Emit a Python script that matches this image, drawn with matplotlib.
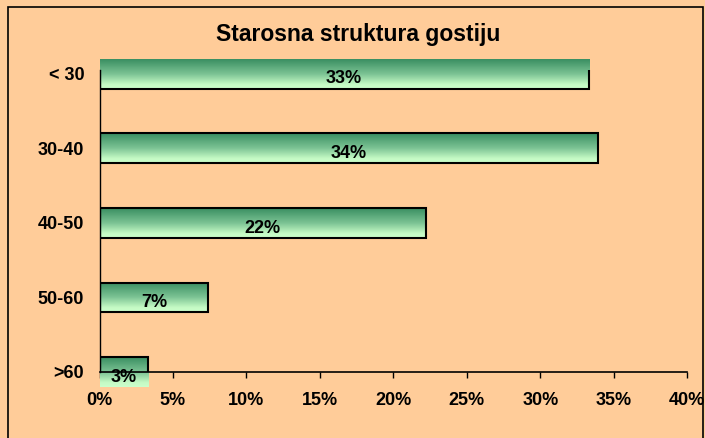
import numpy as np
import matplotlib.pyplot as plt
from matplotlib.colors import LinearSegmentedColormap
from matplotlib.patches import Rectangle

plt.rcParams['font.family'] = ['Liberation Sans', 'DejaVu Sans']

# data
categories = ['< 30', '30-40', '40-50', '50-60', '>60']
values = [33.3, 33.9, 22.2, 7.4, 3.3]
labels = ['33%', '34%', '22%', '7%', '3%']
xticks = [0, 5, 10, 15, 20, 25, 30, 35, 40]

bg = '#FFCC99'
cmap = LinearSegmentedColormap.from_list(
    'grn', [(0, '#3A8F62'), (0.5, '#7CC394'), (0.85, '#C4FAC4'), (1, '#CCFFCC')])

fig = plt.figure(figsize=(7.05, 4.38), dpi=100, facecolor=bg)
ax = fig.add_axes([99.5 / 705, 66 / 438, 587.8 / 705, 302 / 438])
ax.set_facecolor(bg)

# outer chart frame
fig.patches.append(Rectangle((7.5 / 705, -0.01), 695 / 705, 1 - 7 / 438 + 0.01,
                             transform=fig.transFigure, fill=False,
                             edgecolor='#000000', lw=1.2, zorder=0))

h = 0.4
grad = np.linspace(0, 1, 64).reshape(-1, 1)
for i, (v, lab) in enumerate(zip(values, labels)):
    # gradient fill, dark on top (not clipped, like the original)
    ax.imshow(grad, cmap=cmap, aspect='auto', extent=[0, v, i + h / 2, i - h / 2],
              origin='upper', clip_on=False, zorder=2)
    ax.add_patch(Rectangle((0, i - h / 2), v, h, fill=False, edgecolor='black', lw=1.5, zorder=3))
    ax.text(v / 2, i + 0.07, lab, ha='center', va='center', fontsize=13,
            fontweight='bold', zorder=4, clip_on=False)

ax.set_xlim(0, 40)
ax.set_ylim(4, -0.05)
ax.set_yticks(range(len(categories)))
ax.set_yticklabels(categories, fontsize=13, fontweight='bold')
ax.set_xticks(xticks)
ax.set_xticklabels([f'{t}%' for t in xticks], fontsize=13, fontweight='bold')
ax.tick_params(axis='y', length=0, pad=11)
ax.tick_params(axis='x', length=4.3, width=1, direction='out', pad=10)
ax.spines['top'].set_visible(False)
ax.spines['right'].set_visible(False)
ax.spines['left'].set_linewidth(1)
ax.spines['bottom'].set_linewidth(1.2)
ax.spines['bottom'].set_zorder(5)

fig.text(358 / 705, 1 - 35 / 438, 'Starosna struktura gostiju', ha='center', va='center',
         fontsize=16.5, fontweight='bold')

fig.savefig('out.png', dpi=100, facecolor=bg)
